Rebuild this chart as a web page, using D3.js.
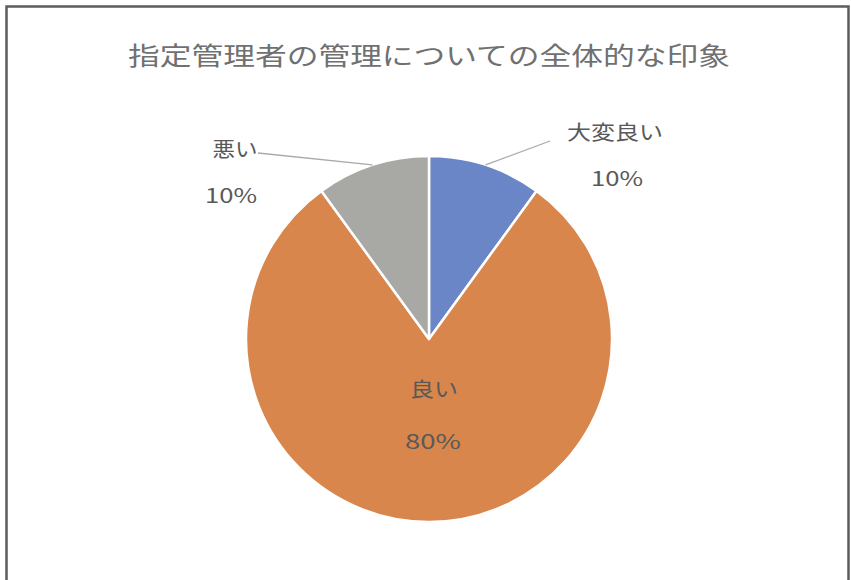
<!DOCTYPE html>
<html>
<head>
<meta charset="utf-8">
<script src="https://cdn.jsdelivr.net/npm/d3@7"></script>
<style>
  html, body { margin: 0; padding: 0; background: #fff; }
  svg { display: block; font-family: "Noto Sans CJK JP", "Noto Sans", sans-serif; }
</style>
</head>
<body>
<div class="container"></div>
<script>
const categories = ["大変良い", "良い", "悪い"];
const values = [10, 80, 10];
const percentLabels = ["10%", "80%", "10%"];
const colors = ["#6a86c6", "#d8864c", "#a8a8a5"];
const title = "指定管理者の管理についての全体的な印象";

document.addEventListener("DOMContentLoaded", () => {
    const width = 851;
    const height = 580;
    const cx = 429;
    const cy = 339;
    const radius = 183;

    const svg = d3.select(".container").append("svg")
        .attr("width", width)
        .attr("height", height);

    // chart border
    svg.append("rect")
        .attr("x", 6.5).attr("y", 6.5)
        .attr("width", 842).attr("height", 600)
        .attr("fill", "#fff")
        .attr("stroke", "#5a5d5c")
        .attr("stroke-width", 2.5);

    svg.append("text")
        .text(title)
        .attr("x", 429).attr("y", 65)
        .attr("text-anchor", "middle")
        .attr("fill", "#707070")
        .style("font-size", "25px")
        .attr("textLength", 602)
        .attr("lengthAdjust", "spacingAndGlyphs");

    const data = categories.map((c, i) => ({name: c, value: values[i], pct: percentLabels[i], color: colors[i]}));
    const pie = d3.pie().sort(null).value(d => d.value);
    const arc = d3.arc().innerRadius(0).outerRadius(radius);
    const arcs = pie(data);

    const g = svg.append("g").attr("transform", `translate(${cx},${cy})`);
    g.selectAll("path")
        .data(arcs)
        .enter()
        .append("path")
        .attr("d", arc)
        .attr("fill", d => d.data.color)
        .attr("stroke", "#fff")
        .attr("stroke-width", 2.5)
        .attr("stroke-linejoin", "round");

    // label placement per slice, relative to centre
    const labelSpots = [
        {lx: 186, ly: -208, px: 121, py: -198, tl: 96, inside: false},
        {lx: 5, ly: 49, inside: true, tl: 48},
        {lx: -194, ly: -191, px: -171, py: -186, tl: 45}
    ];

    arcs.forEach((a, i) => {
        const s = labelSpots[i];
        const mid = (a.startAngle + a.endAngle) / 2;
        if (!s.inside) {
            const ex = Math.sin(mid) * radius;
            const ey = -Math.cos(mid) * radius;
            g.append("path")
                .attr("d", `M${ex},${ey}L${s.px},${s.py}`)
                .attr("fill", "none")
                .attr("stroke", "#a9a9a9")
                .attr("stroke-width", 1.3);
        }
        g.append("text")
            .text(a.data.name)
            .attr("x", s.lx).attr("y", s.ly)
            .attr("text-anchor", "middle")
            .attr("dominant-baseline", "central")
            .attr("fill", "#595959")
            .style("font-size", "20px")
            .attr("textLength", s.tl)
            .attr("lengthAdjust", "spacingAndGlyphs");
        g.append("text")
            .text(a.data.pct)
            .attr("x", s.lx + (i === 0 ? 2 : i === 2 ? -4 : -1)).attr("y", s.ly + (i === 1 ? 52 : 46))
            .attr("text-anchor", "middle")
            .attr("dominant-baseline", "central")
            .attr("fill", "#595959")
            .style("font-size", "20px")
            .attr("textLength", i === 1 ? 56 : 52)
            .attr("lengthAdjust", "spacingAndGlyphs");
    });
});
</script>
</body>
</html>
